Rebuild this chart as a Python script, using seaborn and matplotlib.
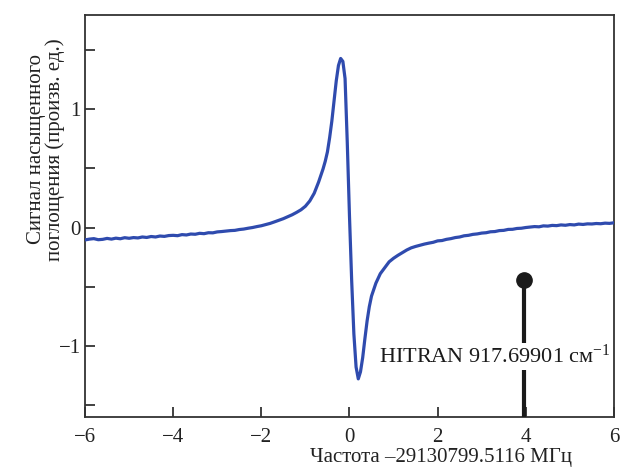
import matplotlib
matplotlib.use("Agg")
import matplotlib.pyplot as plt
import seaborn as sns
import pandas as pd

# ---- data ----
freq = [-6.0, -5.9, -5.8, -5.7, -5.6, -5.5, -5.4, -5.3, -5.2, -5.1,
        -5.0, -4.9, -4.8, -4.7, -4.6, -4.5, -4.4, -4.3, -4.2, -4.1,
        -4.0, -3.9, -3.8, -3.7, -3.6, -3.5, -3.4, -3.3, -3.2, -3.1,
        -3.0, -2.9, -2.8, -2.7, -2.6, -2.5, -2.4, -2.3, -2.2, -2.1,
        -2.0, -1.9, -1.8, -1.7, -1.6, -1.5, -1.4, -1.3, -1.2, -1.1,
        -1.0, -0.9, -0.8, -0.7, -0.6, -0.55, -0.5, -0.45, -0.4, -0.35,
        -0.3, -0.25, -0.2, -0.15, -0.1, -0.05, 0.0, 0.05, 0.1, 0.15,
        0.2, 0.25, 0.3, 0.35, 0.4, 0.45, 0.5, 0.6, 0.7, 0.8,
        0.9, 1.0, 1.1, 1.2, 1.3, 1.4, 1.5, 1.6, 1.7, 1.8,
        1.9, 2.0, 2.1, 2.2, 2.3, 2.4, 2.5, 2.6, 2.7, 2.8,
        2.9, 3.0, 3.1, 3.2, 3.3, 3.4, 3.5, 3.6, 3.7, 3.8,
        3.9, 4.0, 4.1, 4.2, 4.3, 4.4, 4.5, 4.6, 4.7, 4.8,
        4.9, 5.0, 5.1, 5.2, 5.3, 5.4, 5.5, 5.6, 5.7, 5.8,
        5.9, 6.0]
signal = [-0.105, -0.098, -0.094, -0.103, -0.100, -0.092, -0.098, -0.090, -0.095, -0.086,
          -0.091, -0.085, -0.088, -0.080, -0.084, -0.076, -0.080, -0.072, -0.075, -0.068,
          -0.066, -0.069, -0.060, -0.063, -0.055, -0.057, -0.049, -0.052, -0.044, -0.045,
          -0.037, -0.034, -0.030, -0.026, -0.024, -0.017, -0.013, -0.006, 0.000, 0.008,
          0.015, 0.025, 0.035, 0.048, 0.062, 0.075, 0.092, 0.108, 0.128, 0.150,
          0.180, 0.225, 0.290, 0.385, 0.495, 0.560, 0.640, 0.760, 0.900, 1.070,
          1.240, 1.370, 1.430, 1.405, 1.260, 0.720, 0.100, -0.450, -0.900, -1.180,
          -1.280, -1.220, -1.100, -0.940, -0.790, -0.670, -0.580, -0.470, -0.390, -0.340,
          -0.290, -0.260, -0.235, -0.212, -0.190, -0.172, -0.160, -0.150, -0.140, -0.132,
          -0.125, -0.113, -0.110, -0.100, -0.094, -0.085, -0.080, -0.070, -0.066, -0.058,
          -0.054, -0.047, -0.044, -0.036, -0.034, -0.026, -0.024, -0.016, -0.015, -0.008,
          -0.006, 0.000, 0.004, 0.008, 0.006, 0.014, 0.012, 0.018, 0.016, 0.022,
          0.019, 0.025, 0.022, 0.029, 0.026, 0.031, 0.030, 0.034, 0.032, 0.037,
          0.035, 0.040]

hitran_x = [3.95]
hitran_y = [-0.445]
hitran_label = "HITRAN 917.69901 см$^{-1}$"

x_ticks = [-6, -4, -2, 0, 2, 4, 6]
y_major = [-1, 0, 1]
y_minor = [-1.5, -0.5, 0.5, 1.5]

xlabel = "Частота –29130799.5116 МГц"
ylabel = "Сигнал насыщенного\nпоглощения (произв. ед.)"

df = pd.DataFrame({"freq": freq, "signal": signal})

sns.set_theme(style="ticks")
plt.rcParams["font.family"] = ["Liberation Serif", "DejaVu Serif"]
plt.rcParams["mathtext.fontset"] = "custom"
plt.rcParams["mathtext.rm"] = "Liberation Serif"
plt.rcParams["mathtext.it"] = "Liberation Serif:italic"
plt.rcParams["axes.unicode_minus"] = True

fig = plt.figure(figsize=(6.22, 4.68), dpi=100)
ax = fig.add_axes([0.1367, 0.1096, 0.8503, 0.859])

sns.lineplot(data=df, x="freq", y="signal", ax=ax, color="#2F4BAE",
             linewidth=2.3, sort=False, estimator=None, zorder=3)

ylo, yhi = -1.6, 1.8
ax.vlines(hitran_x, ylo, hitran_y, color="#1a1a1a", linewidth=3, zorder=4)
ax.plot(hitran_x, hitran_y, "o", color="#1a1a1a", markersize=11, zorder=5)
ax.text(0.68, -1.09, hitran_label, fontsize=16, color="#1a1a1a",
        va="center", ha="left", zorder=6,
        bbox=dict(facecolor="white", edgecolor="none", pad=1.5))

ax.set_xlim(-6, 6)
ax.set_ylim(ylo, yhi)
ax.set_xticks(x_ticks)
ax.set_yticks(y_major)
ax.set_yticks(y_minor, minor=True)

for side in ["top", "right", "left", "bottom"]:
    ax.spines[side].set_visible(True)
    ax.spines[side].set_color("#333333")
    ax.spines[side].set_linewidth(1.3)

ax.tick_params(axis="both", which="both", direction="in", length=7, width=1.3,
               color="#333333", labelsize=15, labelcolor="#222222",
               top=False, right=False)
ax.tick_params(axis="x", pad=8)
ax.tick_params(axis="y", pad=3)

ax.set_xlabel(xlabel, fontsize=15, color="#222222")
ax.xaxis.set_label_coords(0.673, -0.079)
ax.set_ylabel(ylabel, fontsize=15, color="#222222", linespacing=1.0)
ax.yaxis.set_label_coords(-0.037, 0.665)

fig.savefig("out.png", dpi=100)
